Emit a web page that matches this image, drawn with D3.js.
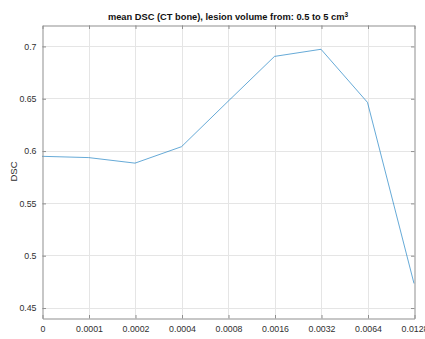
<!DOCTYPE html>
<html>
<head>
<meta charset="utf-8">
<script src="https://cdn.jsdelivr.net/npm/d3@7"></script>
<style>
  html, body { margin: 0; padding: 0; background: #fff; }
  svg { display: block; font-family: "Liberation Sans", Arial, Helvetica, sans-serif; }
</style>
</head>
<body>
<svg id="chart" width="425" height="339"></svg>
<script>
// Learning-rate categories (evenly spaced on the x axis)
const rates = ["0", "0.0001", "0.0002", "0.0004", "0.0008", "0.0016", "0.0032", "0.0064", "0.0128"];
// Mean DSC for each rate
const dsc = [0.5945, 0.5933, 0.588, 0.6037, 0.647, 0.690, 0.6968, 0.646, 0.473];
// Y tick values
const yTicks = [0.45, 0.5, 0.55, 0.6, 0.65, 0.7];

const W = 425, H = 339;
const margin = { left: 42, right: 11, top: 25, bottom: 21 };
const x0 = margin.left, x1 = W - margin.right;
const y0 = margin.top, y1 = H - margin.bottom;

const svg = d3.select("#chart");

const x = d3.scalePoint().domain(rates).range([x0, x1]);
const y = d3.scaleLinear().domain([0.44, 0.72]).range([y1, y0]);

const gridColor = "#e5e5e5";
const axisColor = "#8f8f8f";
const textColor = "#303030";
const tickLen = 3.5;

// Grid lines
const grid = svg.append("g");
grid.selectAll(".gx").data(rates.slice(1, -1)).enter().append("line")
  .attr("x1", d => Math.round(x(d)) + 0.5).attr("x2", d => Math.round(x(d)) + 0.5)
  .attr("y1", y0).attr("y2", y1)
  .attr("stroke", gridColor).attr("stroke-width", 1);
grid.selectAll(".gy").data(yTicks).enter().append("line")
  .attr("x1", x0).attr("x2", x1)
  .attr("y1", d => Math.round(y(d)) + 0.5).attr("y2", d => Math.round(y(d)) + 0.5)
  .attr("stroke", gridColor).attr("stroke-width", 1);

// Data line
svg.append("path")
  .datum(rates.map((r, i) => [r, dsc[i]]))
  .attr("fill", "none")
  .attr("stroke", "#0072BD")
  .attr("stroke-opacity", 0.6)
  .attr("stroke-width", 1)
  .attr("d", d3.line().x(d => x(d[0])).y(d => y(d[1])));

// Axes: bottom and left with labels, top and right as box with inward ticks
const xAxis = d3.axisBottom(x).tickSizeInner(-tickLen).tickSizeOuter(0).tickPadding(8);
const yAxis = d3.axisLeft(y).tickValues(yTicks).tickFormat(d3.format("~g"))
  .tickSizeInner(-tickLen).tickSizeOuter(0).tickPadding(6);

const gx = svg.append("g").attr("transform", `translate(0.5,${y1 + 0.5})`).call(xAxis);
const gy = svg.append("g").attr("transform", `translate(${x0 + 0.5},0.5)`).call(yAxis);
const gxt = svg.append("g").attr("transform", `translate(0.5,${y0 + 0.5})`)
  .call(d3.axisTop(x).tickSizeInner(-tickLen).tickSizeOuter(0).tickFormat(""));
const gyr = svg.append("g").attr("transform", `translate(${x1 + 0.5},0.5)`)
  .call(d3.axisRight(y).tickValues(yTicks).tickSizeInner(-tickLen).tickSizeOuter(0).tickFormat(""));

[gx, gy, gxt, gyr].forEach(g => {
  g.select(".domain").attr("stroke", axisColor);
  g.selectAll(".tick line").attr("stroke", axisColor);
  g.selectAll(".tick text").attr("fill", textColor).attr("font-size", 8.8)
    .attr("font-family", "Liberation Sans, Arial, sans-serif");
});
gx.selectAll(".tick text").attr("dy", "0.6em");

// Title
const title = svg.append("text")
  .attr("x", (x0 + x1) / 2).attr("y", 20)
  .attr("text-anchor", "middle")
  .attr("font-size", 9.3).attr("font-weight", "bold").attr("fill", "#111");
title.append("tspan").text("mean DSC (CT bone), lesion volume from: 0.5 to 5 cm");
title.append("tspan").attr("dy", -3.5).attr("font-size", 6.5).text("3");

// Axis labels
svg.append("text")
  .attr("x", (x0 + x1) / 2).attr("y", y1 + 28)
  .attr("text-anchor", "middle").attr("font-size", 9.5).attr("fill", textColor)
  .text("Rate");
svg.append("text")
  .attr("transform", `translate(17,${(y0 + y1) / 2}) rotate(-90)`)
  .attr("text-anchor", "middle").attr("font-size", 9.5).attr("fill", textColor)
  .text("DSC");
</script>
</body>
</html>
